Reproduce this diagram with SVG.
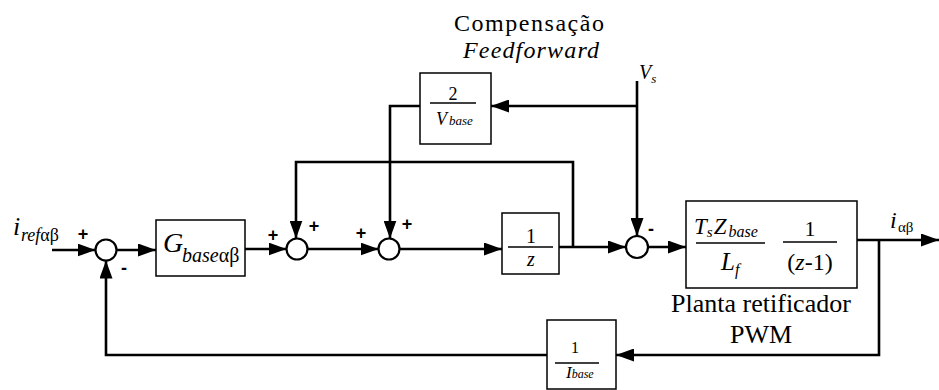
<svg xmlns="http://www.w3.org/2000/svg" width="939" height="390" viewBox="0 0 939 390">
<style>
.box{fill:#fff;stroke:#000;stroke-width:1.5}
.sum{fill:#fff;stroke:#000;stroke-width:2.2}
.wire{fill:none;stroke:#000;stroke-width:2.6}
.bar{stroke:#000;stroke-width:1.4}
</style>
<defs>
<marker id="ah" markerUnits="userSpaceOnUse" markerWidth="18" markerHeight="13" refX="18" refY="6.5" orient="auto">
<path d="M0,0 L18,6.5 L0,13 z" fill="#000"/>
</marker>
</defs>
<rect width="939" height="390" fill="#fff"/>
<g id="connectors">
<path class="wire" d="M52,250 H95.5" marker-end="url(#ah)"/>
<path class="wire" d="M116.5,250 H156" marker-end="url(#ah)"/>
<path class="wire" d="M245,249 H286.5" marker-end="url(#ah)"/>
<path class="wire" d="M307.5,249 H378.5" marker-end="url(#ah)"/>
<path class="wire" d="M399.5,249 H502" marker-end="url(#ah)"/>
<path class="wire" d="M559,247 H626" marker-end="url(#ah)"/>
<path class="wire" d="M648,247 H686" marker-end="url(#ah)"/>
<path class="wire" d="M857,240 H939" marker-end="url(#ah)"/>
<path class="wire" d="M879,240 V355 H616" marker-end="url(#ah)"/>
<path class="wire" d="M547,355 H106 V260.5" marker-end="url(#ah)"/>
<path class="wire" d="M573,247 V162 H296 V238.5" marker-end="url(#ah)"/>
<path class="wire" d="M637,81 V236" marker-end="url(#ah)"/>
<path class="wire" d="M637,106 H491" marker-end="url(#ah)"/>
<path class="wire" d="M420,106 H390 V238.5" marker-end="url(#ah)"/>
</g>
<g id="input-label" font-family="Liberation Serif">
<text x="13" y="235" font-size="26" font-style="italic" font-family="Liberation Serif">i</text>
<text x="21" y="241" font-size="18" font-family="Liberation Serif"><tspan font-style="italic">ref</tspan>αβ</text>
</g>
<g id="sum1" font-family="Liberation Sans" font-weight="bold" font-size="18" text-anchor="middle">
<circle class="sum" cx="106" cy="250" r="10.5"/>
<text x="83" y="240" font-family="Liberation Sans">+</text>
<text x="124" y="274" font-family="Liberation Sans">-</text>
</g>
<g id="controller">
<rect class="box" x="156" y="220" width="89" height="56"/>
<text x="163" y="252" font-size="28" font-style="italic" font-family="Liberation Serif">G</text>
<text x="182" y="262" font-size="20" font-family="Liberation Serif"><tspan font-style="italic">base</tspan>αβ</text>
</g>
<g id="sum2" font-weight="bold" font-size="18" text-anchor="middle">
<circle class="sum" cx="297" cy="249" r="10.5"/>
<text x="273" y="241" font-family="Liberation Sans">+</text>
<text x="314" y="232" font-family="Liberation Sans">+</text>
</g>
<g id="sum3" font-weight="bold" font-size="18" text-anchor="middle">
<circle class="sum" cx="389" cy="249" r="10.5"/>
<text x="361" y="239" font-family="Liberation Sans">+</text>
<text x="407" y="230" font-family="Liberation Sans">+</text>
</g>
<g id="delay">
<rect class="box" x="502" y="213" width="57" height="61"/>
<text x="531" y="243" font-size="20" text-anchor="middle" font-family="Liberation Serif">1</text>
<line class="bar" x1="508" y1="247" x2="553" y2="247"/>
<text x="531" y="266" font-size="20" font-style="italic" text-anchor="middle" font-family="Liberation Serif">z</text>
</g>
<g id="feedforward">
<text x="529" y="31" font-size="24" text-anchor="middle" textLength="150" font-family="Liberation Serif">Compensação</text>
<text x="531" y="58" font-size="24" font-style="italic" text-anchor="middle" textLength="136" font-family="Liberation Serif">Feedforward</text>
<rect class="box" x="420" y="73" width="71" height="71"/>
<text x="453" y="100" font-size="18" text-anchor="middle" font-family="Liberation Serif">2</text>
<line class="bar" x1="430" y1="103" x2="476" y2="103"/>
<text x="436" y="125" font-size="18" font-style="italic" font-family="Liberation Serif">V<tspan font-size="13" dx="2">base</tspan></text>
</g>
<g id="vs-label">
<text x="639" y="79" font-size="20" font-style="italic" font-family="Liberation Serif">V<tspan font-size="13" dy="4">s</tspan></text>
</g>
<g id="sum4" font-weight="bold" font-size="18" text-anchor="middle">
<circle class="sum" cx="637" cy="247" r="11"/>
<text x="651" y="235" font-family="Liberation Sans">-</text>
</g>
<g id="plant">
<rect class="box" x="686" y="201" width="171" height="87"/>
<text x="694" y="234" font-size="23" font-style="italic" font-family="Liberation Serif">T<tspan font-size="15" dy="3">s</tspan><tspan dy="-3" dx="1">Z</tspan><tspan font-size="16" dy="3" dx="2">base</tspan></text>
<line class="bar" x1="696" y1="243" x2="765" y2="243"/>
<text x="721" y="270" font-size="25" font-style="italic" font-family="Liberation Serif">L<tspan font-size="16" dy="5">f</tspan></text>
<text x="810" y="236" font-size="22" text-anchor="middle" font-family="Liberation Serif">1</text>
<line class="bar" x1="783" y1="242" x2="837" y2="242"/>
<text x="810" y="270" font-size="24" text-anchor="middle" font-family="Liberation Serif">(<tspan font-style="italic">z</tspan>-1)</text>
<text x="761" y="312" font-size="26" text-anchor="middle" font-family="Liberation Serif">Planta retificador</text>
<text x="761" y="343" font-size="26" text-anchor="middle" font-family="Liberation Serif">PWM</text>
</g>
<g id="output-label">
<text x="890" y="228" font-size="24" font-style="italic" font-family="Liberation Serif">i</text>
<text x="898" y="232" font-size="15" font-family="Liberation Serif">αβ</text>
</g>
<g id="feedback-gain">
<rect class="box" x="547" y="320" width="69" height="69"/>
<text x="575" y="353" font-size="16" text-anchor="middle" font-family="Liberation Serif">1</text>
<line class="bar" x1="555" y1="363" x2="599" y2="363"/>
<text x="566" y="378" font-size="17" font-style="italic" font-family="Liberation Serif">I<tspan font-size="12">base</tspan></text>
</g>
</svg>
